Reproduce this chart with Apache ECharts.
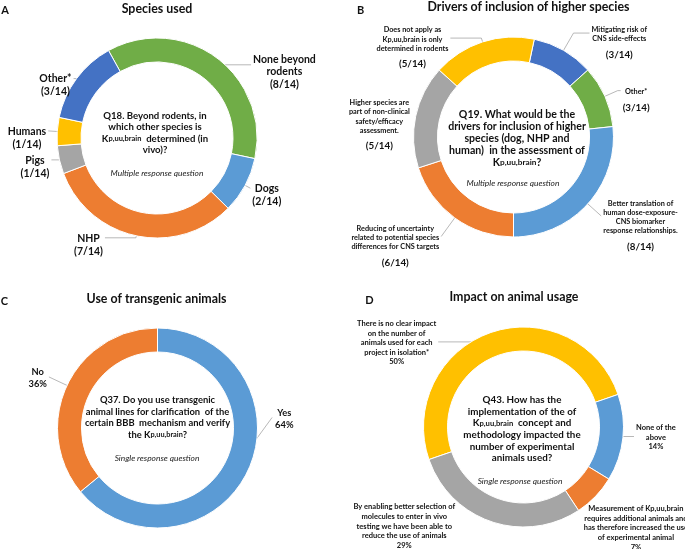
<!DOCTYPE html>
<html>
<head>
<meta charset="utf-8">
<script src="https://cdn.jsdelivr.net/npm/echarts@6/dist/echarts.min.js"></script>
<style>
html, body { margin: 0; padding: 0; background: #fff; }
#main { width: 685px; height: 549px; }
</style>
</head>
<body>
<div id="main"></div>
<script>
var FONT = 'Lato, "Noto Sans", sans-serif';
var respondents = 14;

// A - species used (multiple response)
var speciesNames = ['None beyond\nrodents', 'Dogs', 'NHP', 'Pigs', 'Humans', 'Other*'];
var speciesCounts = [8, 2, 7, 1, 1, 3];
var speciesColors = ['#70AD47', '#5B9BD5', '#ED7D31', '#A5A5A5', '#FFC000', '#4472C4'];

// B - drivers for inclusion of higher species (multiple response)
var driverNames = [
  'Mitigating risk of\nCNS side-effects',
  'Other*',
  'Better translation of\nhuman dose-exposure-\nCNS biomarker\nresponse relationships.',
  'Reducing of uncertainty\nrelated to potential species\ndifferences for CNS targets',
  'Higher species are\npart of non-clinical\nsafety/efficacy\nassessment.',
  'Does not apply as\nKp,uu,brain is only\ndetermined in rodents'
];
var driverCounts = [3, 3, 8, 6, 5, 5];
var driverColors = ['#4472C4', '#70AD47', '#5B9BD5', '#ED7D31', '#A5A5A5', '#FFC000'];

// C - transgenic animals (single response, %)
var transgenicNames = ['Yes', 'No'];
var transgenicPct = [64, 36];
var transgenicColors = ['#5B9BD5', '#ED7D31'];

// D - impact on animal usage (single response, %)
var impactNames = [
  'There is no clear impact\non the number of\nanimals used for each\nproject in isolation*',
  'None of the\nabove',
  'Measurement of Kp,uu,brain\nrequires additional animals and\nhas therefore increased the use\nof experimental animal',
  'By enabling better selection of\nmolecules to enter in vivo\ntesting we have been able to\nreduce the use of animals'
];
var impactPct = [50, 14, 7, 29];
var impactColors = ['#FFC000', '#5B9BD5', '#ED7D31', '#A5A5A5'];

// leader line lengths [length, length2], label nudges [dx, dy], hidden lines
var lineA = [[3, 40], [18, 0], [14, 31], [12, 8], [21, 0], [12, 3]];
var lineB = [[32, 16], [26, 3], [30, 0], [35, 0], [16, 0], [16, 31]];
var lineC = [[0, 0], [32, 0]];
var lineD = [[2, 56], [0, 23], [0, 0], [0, 38]];
var nudgeC = [[36, -48], [0, 0]];
var nudgeD = [[0, 0], [0, 0], [-5, 39], [0, 15]];

var R_IN = 76, R_OUT = 100, R_LINE = 88;

function ring(center, startAngle, names, values, colors) {
  return {
    type: 'pie', center: center, radius: [R_IN, R_OUT], startAngle: startAngle,
    silent: true, label: { show: false }, labelLine: { show: false },
    itemStyle: { borderColor: '#fff', borderWidth: 1 },
    data: values.map(function (v, i) {
      return { value: v, name: names[i], itemStyle: { color: colors[i] } };
    })
  };
}

function labelPlacer(shift, nudges) {
  return function (p) {
    var n = (nudges && nudges[p.dataIndex]) || [0, 0];
    var r = p.labelRect;
    var out = { x: r.x + n[0], y: r.y + shift + n[1], align: 'left', verticalAlign: 'top' };
    var pts = p.labelLinePoints;
    if (pts) {
      if (n[0] || n[1]) {
        var sx = p.align === 'right' ? out.x + r.width + 3 : out.x - 3;
        out.labelLinePoints = [pts[0], [sx, out.y + r.height / 2]];
      } else {
        out.labelLinePoints = pts;
      }
    }
    return out;
  };
}

function labels(center, startAngle, names, values, lines, hidden, formatter, rich, shift, nudges) {
  return {
    type: 'pie', center: center, radius: [0, R_LINE], startAngle: startAngle,
    silent: true, avoidLabelOverlap: false, percentPrecision: 0,
    itemStyle: { color: 'rgba(0,0,0,0)' },
    label: {
      show: true, position: 'outside', distanceToLabelLine: 2, overflow: 'none',
      formatter: formatter, rich: rich
    },
    labelLine: { show: true, lineStyle: { color: '#A6A6A6', width: 0.8 } },
    labelLayout: labelPlacer(shift, nudges),
    data: values.map(function (v, i) {
      return {
        value: v, name: names[i],
        labelLine: { show: hidden.indexOf(i) < 0, length: lines[i][0], length2: lines[i][1] }
      };
    })
  };
}

function st(size, lh, extra) {
  var o = { fontFamily: FONT, fontWeight: 'bold', fontSize: size, lineHeight: lh, color: '#111', align: 'center' };
  for (var k in extra) o[k] = extra[k];
  return o;
}

function txt(x, y, text, style) {
  var s = { text: text, x: 0, y: 0, fill: '#111', fontFamily: FONT, align: 'center', verticalAlign: 'middle',
            textAlign: 'center', textVerticalAlign: 'middle' };
  for (var k in style) s[k] = style[k];
  return { type: 'text', x: x, y: y, silent: true, style: s };
}

function question(x, y, lines, size, lh) {
  var rich = {
    b: { fontFamily: FONT, fontWeight: 'bold', fontSize: size, lineHeight: lh, fill: '#111', color: '#111' },
    s: { fontFamily: FONT, fontWeight: 'bold', fontSize: size * 0.78, lineHeight: lh, fill: '#111', color: '#111' }
  };
  return txt(x, y, lines.join('\n'), { rich: rich, fontSize: size, fontWeight: 'bold', lineHeight: lh });
}

function note(x, y, text) {
  return txt(x, y, text, { fontSize: 8.4, fontStyle: 'italic', fill: '#222' });
}

var cA = [157, 138], cB = [513.5, 137], cC = [157.5, 428], cD = [523.5, 427];

var chart = echarts.init(document.getElementById('main'));
chart.setOption({
  animation: false,
  backgroundColor: '#fff',
  series: [
    ring(cA, 119, speciesNames, speciesCounts, speciesColors),
    ring(cB, 78, driverNames, driverCounts, driverColors),
    ring(cC, 90, transgenicNames, transgenicPct, transgenicColors),
    ring(cD, 199, impactNames, impactPct, impactColors),
    labels(cA, 119, speciesNames, speciesCounts, lineA, [],
      function (p) { return '{n|' + p.name + '}\n{c|(' + p.value + '/' + respondents + ')}'; },
      { n: st(10.5, 12), c: st(10.5, 14) }, 7),
    labels(cB, 78, driverNames, driverCounts, lineB, [4],
      function (p) { return '{t|' + p.name + '}\n{c|(' + p.value + '/' + respondents + ')}'; },
      { t: st(7.3, 9.3), c: st(9.8, 22) }, 11),
    labels(cC, 90, transgenicNames, transgenicPct, lineC, [],
      function (p) { return '{t|' + p.name + '}\n{t|' + p.value + '%}'; },
      { t: st(9.3, 12) }, 0, nudgeC),
    labels(cD, 199, impactNames, impactPct, lineD, [2, 3],
      function (p) { return '{t|' + p.name + '}\n{t|' + p.value + '%}'; },
      { t: st(7.5, 9.6) }, 0, nudgeD)
  ],
  graphic: [
    txt(5, 10.5, 'A', { fontSize: 11, fontWeight: 'bold' }),
    txt(360.5, 10.5, 'B', { fontSize: 11, fontWeight: 'bold' }),
    txt(4.5, 301, 'C', { fontSize: 11, fontWeight: 'bold' }),
    txt(369.5, 300.5, 'D', { fontSize: 11, fontWeight: 'bold' }),
    txt(157, 9, 'Species used', { fontSize: 12.4, fontWeight: 'bold' }),
    txt(528.5, 7, 'Drivers of inclusion of higher species', { fontSize: 12.4, fontWeight: 'bold' }),
    txt(156.5, 299, 'Use of transgenic animals', { fontSize: 12.4, fontWeight: 'bold' }),
    txt(514, 297, 'Impact on animal usage', { fontSize: 12.4, fontWeight: 'bold' }),
    question(155, 133, [
      '{b|Q18. Beyond rodents, in}',
      '{b|which other species is}',
      '{b|K}{s|p,uu,brain}{b|  determined (in}',
      '{b|vivo)?}'
    ], 9.6, 11.2),
    note(157, 173, 'Multiple response question'),
    question(517, 138.5, [
      '{b|Q19. What would be the}',
      '{b|drivers for inclusion of higher}',
      '{b|species (dog, NHP and}',
      '{b|human)  in the assessment of}',
      '{b|K}{s|p,uu,brain}{b|?}'
    ], 10.6, 11.8),
    note(513, 183, 'Multiple response question'),
    question(157.5, 417.5, [
      '{b|Q37. Do you use transgenic}',
      '{b|animal lines for clarification  of the}',
      '{b|certain BBB  mechanism and verify}',
      '{b|the K}{s|p,uu,brain}{b|?}'
    ], 9.4, 11.7),
    note(157, 458, 'Single response question'),
    question(522, 429, [
      '{b|Q43. How has the}',
      '{b|implementation of the of}',
      '{b|K}{s|p,uu,brain}{b|  concept and}',
      '{b|methodology impacted the}',
      '{b|number of experimental}',
      '{b|animals used?}'
    ], 9.8, 11.6),
    note(520, 481, 'Single response question')
  ]
});
</script>
</body>
</html>
